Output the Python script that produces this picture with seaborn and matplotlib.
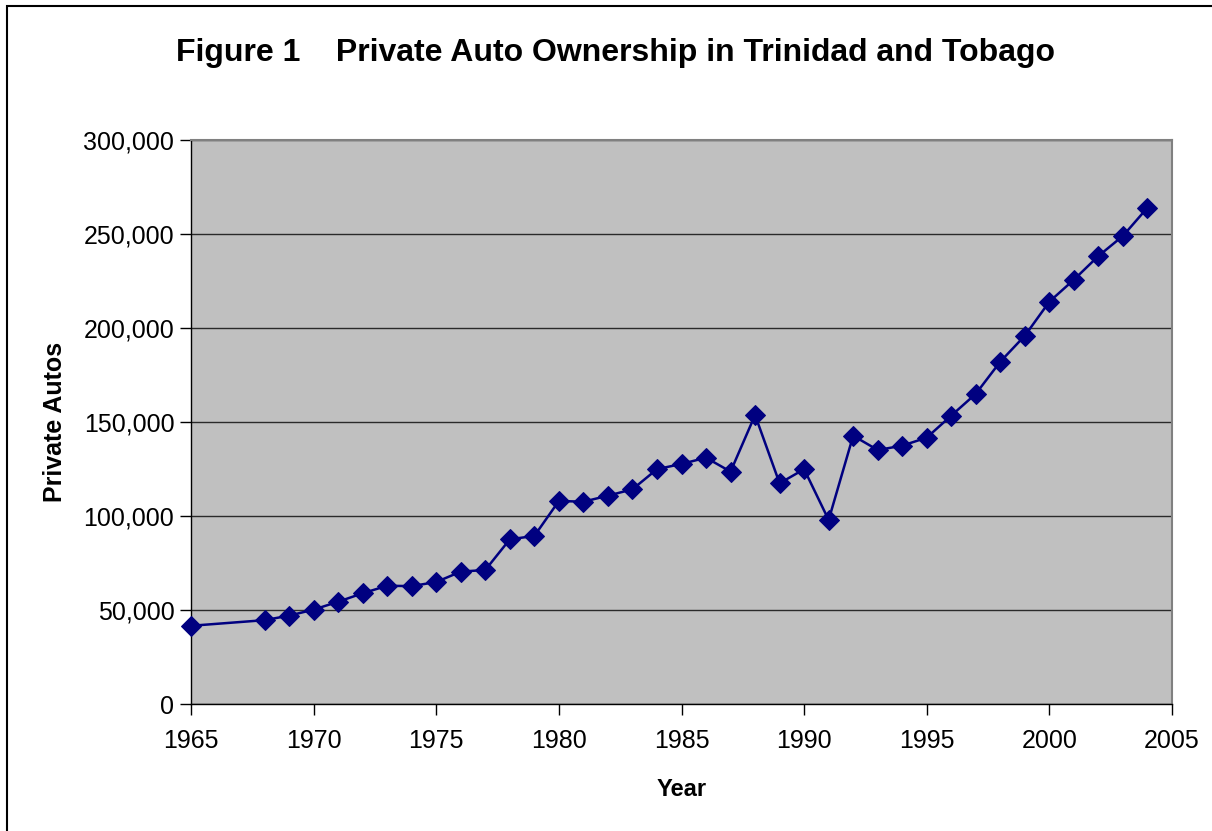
import matplotlib
matplotlib.use("Agg")
import matplotlib.pyplot as plt
import matplotlib.patches as mpatches
import seaborn as sns
import pandas as pd

years = [1965, 1968, 1969, 1970, 1971, 1972, 1973, 1974, 1975, 1976, 1977,
         1978, 1979, 1980, 1981, 1982, 1983, 1984, 1985, 1986, 1987, 1988,
         1989, 1990, 1991, 1992, 1993, 1994, 1995, 1996, 1997, 1998, 1999,
         2000, 2001, 2002, 2003, 2004]
autos = [41600, 44600, 47000, 50200, 54400, 58900, 62900, 62700, 64900, 70400,
         71300, 87600, 89400, 108000, 107600, 110800, 114200, 124900, 127700,
         131000, 123600, 153700, 117400, 124900, 97900, 142700, 135100, 137400,
         141700, 153400, 165000, 182100, 195900, 214000, 225700, 238300, 249000,
         264000]
y_ticks = [0, 50000, 100000, 150000, 200000, 250000, 300000]
x_ticks = [1965, 1970, 1975, 1980, 1985, 1990, 1995, 2000, 2005]

df = pd.DataFrame({"Year": years, "Private Autos": autos})

sns.set_theme(style="white")
plt.rcParams["font.family"] = ["Liberation Sans", "DejaVu Sans"]
plt.rcParams["text.color"] = "black"
plt.rcParams["axes.labelcolor"] = "black"

W, H = 1212, 831
fig = plt.figure(figsize=(W / 100, H / 100), dpi=100)
ax = fig.add_axes([191 / W, 1 - 704 / H, (1172 - 191) / W, (704 - 140) / H])
ax.set_facecolor("#C0C0C0")

sns.lineplot(data=df, x="Year", y="Private Autos", ax=ax, color="#000080",
             linewidth=1.8, marker="D", markersize=10, markeredgecolor="#000080",
             zorder=3, clip_on=False)

ax.set_xlim(1965, 2005)
ax.set_ylim(0, 300000)
ax.set_xticks(x_ticks)
ax.set_yticks(y_ticks)
ax.set_yticklabels([f"{v:,}" for v in y_ticks])
ax.yaxis.grid(True, color="#2a2a2a", linewidth=1.0)
ax.xaxis.grid(False)
ax.set_axisbelow(True)

for s in ["top", "right"]:
    ax.spines[s].set_color("#808080")
    ax.spines[s].set_linewidth(1.5)
for s in ["left", "bottom"]:
    ax.spines[s].set_color("#000000")
    ax.spines[s].set_linewidth(1.0)

ax.tick_params(axis="both", which="major", direction="out", length=8,
               width=1, color="#000000", labelsize=18, labelcolor="black",
               bottom=True, left=True)
ax.tick_params(axis="x", pad=10)
ax.tick_params(axis="y", pad=4)

ax.set_xlabel("Year", fontsize=17, fontweight="bold", labelpad=18, color="black")
ax.set_ylabel("Private Autos", fontsize=18, fontweight="bold", labelpad=12, color="black")

fig.text(616 / W, 1 - 53 / H, "Figure 1    Private Auto Ownership in Trinidad and Tobago",
         ha="center", va="center", fontsize=23, fontweight="bold", color="black")

# outer chart border
fig.patches.append(mpatches.Rectangle((7 / W, -0.01), 1.02, 1 - 6 / H + 0.01,
                                      transform=fig.transFigure, fill=False,
                                      edgecolor="#000000", linewidth=1.5))

fig.savefig("out.png", dpi=100, facecolor="white")
